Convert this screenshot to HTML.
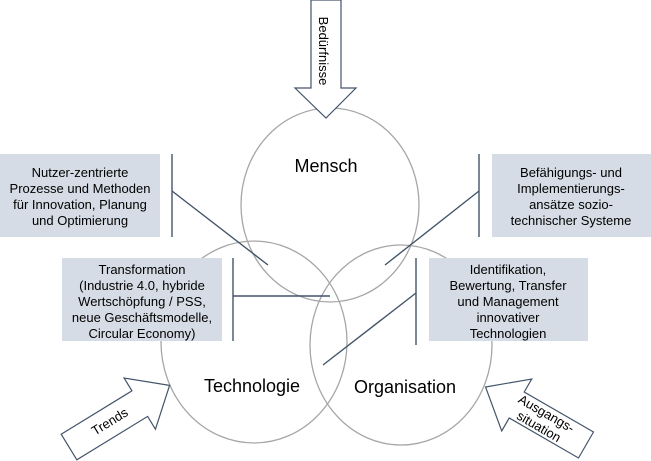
<!DOCTYPE html>
<html><head><meta charset="utf-8"><style>
html,body{margin:0;padding:0;background:#fff;}
svg{display:block;font-family:"Liberation Sans",sans-serif;}
</style></head><body>
<svg width="651" height="461" viewBox="0 0 651 461" xmlns="http://www.w3.org/2000/svg">
<g fill="none" stroke="#a6a6a6" stroke-width="1.3">
<ellipse cx="330" cy="205" rx="89" ry="97"/>
<ellipse cx="254" cy="342" rx="93" ry="101"/>
<ellipse cx="401" cy="345" rx="91" ry="100"/>
</g>
<g fill="#d6dce5">
<rect x="0" y="154" width="160" height="83"/>
<rect x="62" y="258" width="160" height="83"/>
<rect x="492" y="154" width="159" height="83"/>
<rect x="429" y="258" width="159" height="83"/>
</g>
<g stroke="#44546a" stroke-width="1.4" fill="none">
<line x1="172" y1="154" x2="172" y2="237"/>
<line x1="172" y1="191" x2="268" y2="265"/>
<line x1="233" y1="258" x2="233" y2="341"/>
<line x1="233" y1="296" x2="330" y2="296"/>
<line x1="479" y1="154" x2="479" y2="237"/>
<line x1="479" y1="191" x2="385" y2="265"/>
<line x1="416" y1="258" x2="416" y2="345"/>
<line x1="416" y1="293" x2="323" y2="365"/>
</g>
<g font-size="13" fill="#000" text-anchor="middle">
<text x="80" y="177">Nutzer-zentrierte</text>
<text x="80" y="193">Prozesse und Methoden</text>
<text x="80" y="209">für Innovation, Planung</text>
<text x="80" y="225">und Optimierung</text>
<text x="142" y="274">Transformation</text>
<text x="142" y="290">(Industrie 4.0, hybride</text>
<text x="142" y="306">Wertschöpfung / PSS,</text>
<text x="142" y="322">neue Geschäftsmodelle,</text>
<text x="142" y="338">Circular Economy)</text>
<text x="571" y="177">Befähigungs- und</text>
<text x="571" y="193">Implementierungs-</text>
<text x="571" y="209">ansätze sozio-</text>
<text x="571" y="225">technischer Systeme</text>
<text x="508" y="274">Identifikation,</text>
<text x="508" y="290">Bewertung, Transfer</text>
<text x="508" y="306">und Management</text>
<text x="508" y="322">innovativer</text>
<text x="508" y="338">Technologien</text>
</g>
<g font-size="18" fill="#000" text-anchor="middle">
<text x="326" y="172">Mensch</text>
<text x="252" y="392">Technologie</text>
<text x="405" y="393">Organisation</text>
</g>
<g fill="#fff" stroke="#44546a" stroke-width="1.2">
<polygon points="311,0 341,0 341,88 356,88 326,118 295,88 311,88"/>
<g transform="translate(69,447) rotate(-31.5)">
<polygon points="0,-15 83,-15 83,-30 118,0 83,30 83,15 0,15"/>
</g>
<g transform="translate(586,445) rotate(30)">
<polygon points="0,-15 -80,-15 -80,-30 -116,0 -80,30 -80,15 0,15"/>
</g>
</g>
<text font-size="13" text-anchor="middle" transform="translate(319,51) rotate(90)">Bedürfnisse</text>
<text font-size="13" text-anchor="middle" transform="translate(69,447) rotate(-31.5) translate(48,4)">Trends</text>
<g font-size="13" text-anchor="middle" transform="translate(586,445) rotate(30)">
<text x="-50" y="-3">Ausgangs-</text>
<text x="-50" y="12">situation</text>
</g>
</svg>
</body></html>
